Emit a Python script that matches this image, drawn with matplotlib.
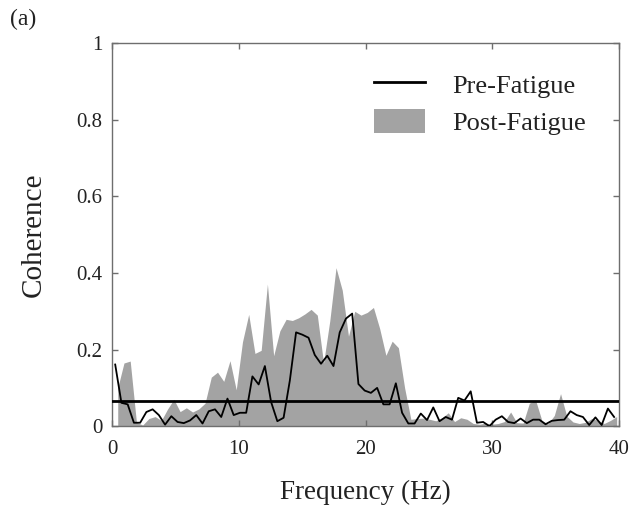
import numpy as np
import matplotlib
matplotlib.use("Agg")
import matplotlib.pyplot as plt
from matplotlib.lines import Line2D
from matplotlib.patches import Patch
from matplotlib.ticker import FuncFormatter

plt.rcParams['font.family'] = ['Liberation Serif', 'DejaVu Serif']

# Frequency bins (Hz)
freq_pre = np.linspace(0.25, 39.6, 81)
freq_post = freq_pre + 0.2

# Pre-fatigue coherence
coh_pre = [
    0.161, 0.061, 0.057, 0.009, 0.009, 0.037, 0.044, 0.029, 0.004, 0.026,
    0.011, 0.008, 0.015, 0.029, 0.007, 0.039, 0.044, 0.024, 0.072, 0.029,
    0.035, 0.035, 0.130, 0.109, 0.157, 0.063, 0.013, 0.022, 0.119, 0.245,
    0.239, 0.231, 0.186, 0.163, 0.184, 0.157, 0.245, 0.281, 0.294, 0.110,
    0.093, 0.087, 0.100, 0.057, 0.057, 0.112, 0.035, 0.007, 0.007, 0.033,
    0.016, 0.049, 0.013, 0.024, 0.017, 0.074, 0.067, 0.091, 0.009, 0.011,
    0.000, 0.017, 0.026, 0.011, 0.008, 0.020, 0.008, 0.017, 0.017, 0.005,
    0.014, 0.016, 0.017, 0.039, 0.029, 0.024, 0.003, 0.023, 0.003, 0.046,
    0.024,
]

# Post-fatigue coherence
coh_post = [
    0.100, 0.165, 0.170, 0.010, 0.003, 0.020, 0.025, 0.015, 0.045, 0.070,
    0.038, 0.048, 0.037, 0.045, 0.060, 0.128, 0.141, 0.117, 0.171, 0.095,
    0.220, 0.292, 0.190, 0.198, 0.371, 0.184, 0.249, 0.279, 0.276, 0.283,
    0.293, 0.305, 0.290, 0.165, 0.275, 0.414, 0.355, 0.235, 0.300, 0.290,
    0.297, 0.310, 0.255, 0.185, 0.222, 0.205, 0.100, 0.018, 0.020, 0.021,
    0.018, 0.014, 0.022, 0.035, 0.012, 0.022, 0.018, 0.007, 0.005, 0.008,
    0.005, 0.007, 0.012, 0.037, 0.009, 0.008, 0.060, 0.068, 0.015, 0.006,
    0.028, 0.085, 0.026, 0.011, 0.007, 0.010, 0.020, 0.015, 0.007, 0.015,
    0.025,
]

# 95% confidence limit for coherence
conf_limit = 0.065

x_ticks = [0, 10, 20, 30, 40]
y_ticks = [0, 0.2, 0.4, 0.6, 0.8, 1.0]

fill_color = '#a3a3a3'
spine_color = '#6e6e6e'
text_color = '#222222'

fig = plt.figure(figsize=(6.42, 5.21), dpi=100)
ax = fig.add_axes([0.1745, 0.182, 0.79, 0.735])

ax.fill_between(freq_post, 0, coh_post, color=fill_color, linewidth=0, zorder=1)
ax.plot(freq_pre, coh_pre, color='black', linewidth=1.3, zorder=3)
ax.axhline(conf_limit, color='black', linewidth=2.0, zorder=4)

ax.set_xlim(0, 40)
ax.set_ylim(0, 1)
ax.set_xticks(x_ticks)
ax.set_yticks(y_ticks)
ax.yaxis.set_major_formatter(FuncFormatter(lambda v, p: f"{v:g}"))

for s in ax.spines.values():
    s.set_color(spine_color)
    s.set_linewidth(1.0)

ax.tick_params(axis='both', which='both', direction='in', length=4, width=1.0,
               color=spine_color, top=True, right=True, labelsize=15,
               labelcolor=text_color)
ax.tick_params(axis='x', pad=10)
ax.tick_params(axis='y', pad=7)

ax.set_xlabel('Frequency (Hz)', fontsize=19.5, color=text_color, labelpad=15)
ax.set_ylabel('Coherence', fontsize=21, color=text_color, labelpad=21)

handles = [
    Line2D([0], [0], color='black', linewidth=2.0),
    Patch(facecolor=fill_color, edgecolor='none'),
]
ax.legend(handles, ['Pre-Fatigue', 'Post-Fatigue'], loc='upper left',
          bbox_to_anchor=(0.481, 0.975), frameon=False, fontsize=19,
          handlelength=1.9, handleheight=1.05, handletextpad=1.05,
          labelspacing=0.42, labelcolor=text_color, borderpad=0.2)

fig.text(0.016, 0.962, '(a)', fontsize=17, color=text_color, va='center', ha='left')

fig.savefig('out.png', dpi=100)
